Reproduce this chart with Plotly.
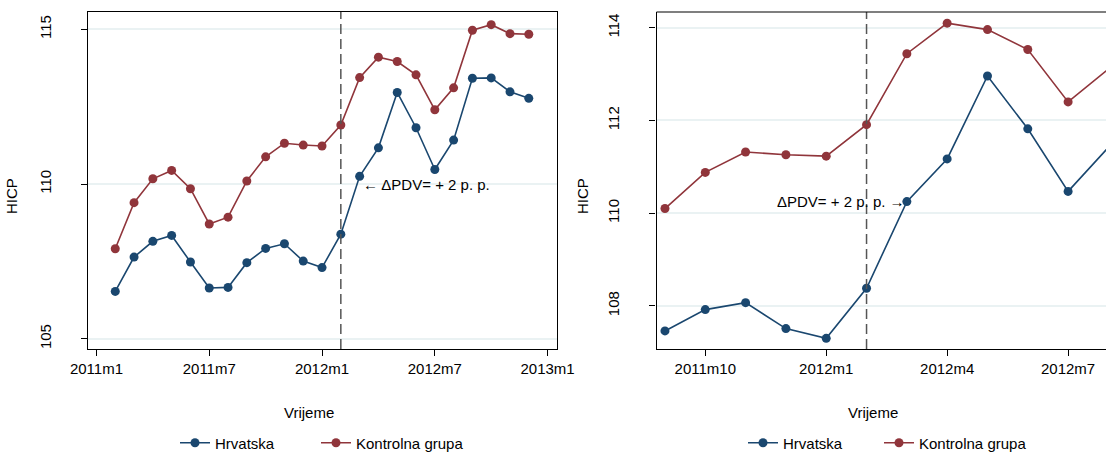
import plotly.graph_objects as go

# ---------------- data ----------------
months = ["2011m2", "2011m3", "2011m4", "2011m5", "2011m6", "2011m7", "2011m8",
          "2011m9", "2011m10", "2011m11", "2011m12", "2012m1", "2012m2", "2012m3",
          "2012m4", "2012m5", "2012m6", "2012m7", "2012m8", "2012m9", "2012m10",
          "2012m11", "2012m12"]
hrvatska = [106.53, 107.64, 108.15, 108.34, 107.48, 106.64, 106.66, 107.46,
            107.92, 108.07, 107.51, 107.30, 108.38, 110.25, 111.17, 112.96,
            111.82, 110.47, 111.42, 113.42, 113.43, 112.98, 112.77]
kontrolna = [107.91, 109.40, 110.17, 110.44, 109.85, 108.71, 108.93, 110.10,
             110.88, 111.32, 111.26, 111.23, 111.91, 113.44, 114.10, 113.96,
             113.53, 112.40, 113.11, 114.97, 115.15, 114.86, 114.84]
series_names = ["Hrvatska", "Kontrolna grupa"]

left_xticks = ["2011m1", "2011m7", "2012m1", "2012m7", "2013m1"]
right_xticks = ["2011m10", "2012m1", "2012m4", "2012m7"]
left_yticks = [105, 110, 115]
right_yticks = [108, 110, 112, 114]
right_window = ["2011m9", "2012m8"]
treatment_month = "2012m2"
label_month = "2012m3"
left_label = "← ΔPDV= + 2 p. p."
right_label = "ΔPDV= + 2 p. p. →"
y_title = "HICP"
x_title = "Vrijeme"

# ---------------- styling ----------------
NAVY = "#1a476f"
MAROON = "#90353b"
GRID = "#eaf2f3"
FONT = "Liberation Sans, Arial, sans-serif"
FS = 15
W, H = 1106, 452


def midx(s):
    y, m = s.split("m")
    return (int(y) - 2011) * 12 + int(m) - 1


x_all = [midx(m) for m in months]
r0, r1 = midx(right_window[0]), midx(right_window[1])
sel = [i for i, v in enumerate(x_all) if r0 <= v <= r1]


def px(xp):
    return xp / W


def py(yp):
    return 1 - yp / H


L_dom = [px(88), px(557)]
R_dom = [px(656.5), 1.0]
Y_dom = [py(349), py(12)]

fig = go.Figure()

colors = [NAVY, MAROON]
values = [hrvatska, kontrolna]
# one legend per entry so each entry can be placed like the original
legend_ids = [["legend", "legend2"], ["legend3", "legend4"]]
legend_text_x = [[215, 356], [783, 919]]

for k, (name, col, vals) in enumerate(zip(series_names, colors, values)):
    fig.add_trace(go.Scatter(
        x=x_all, y=vals, name=name, mode="lines+markers",
        line=dict(color=col, width=1.6),
        marker=dict(color=col, size=9),
        xaxis="x", yaxis="y", legend=legend_ids[0][k], cliponaxis=False,
    ))
for k, (name, col, vals) in enumerate(zip(series_names, colors, values)):
    fig.add_trace(go.Scatter(
        x=[x_all[i] for i in sel], y=[vals[i] for i in sel], name=name,
        mode="lines+markers",
        line=dict(color=col, width=1.6),
        marker=dict(color=col, size=9),
        xaxis="x2", yaxis="y2", legend=legend_ids[1][k], cliponaxis=False,
    ))

tickfont = dict(family=FONT, size=FS, color="#000")
common_x = dict(showgrid=False, zeroline=False, showline=True, linecolor="#000",
                linewidth=1.2, ticks="outside", ticklen=6, tickcolor="#000",
                tickwidth=1, tickfont=tickfont, automargin=False)
common_y = dict(showgrid=True, gridcolor=GRID, gridwidth=2, zeroline=False,
                showline=True, linecolor="#000", linewidth=1.2,
                ticks="outside", ticklen=6, tickcolor="#000", tickwidth=1,
                tickfont=tickfont, tickangle=-90, ticklabelstandoff=24,
                automargin=False)

legend_common = dict(orientation="h", xanchor="left", y=py(443),
                     yanchor="middle", font=dict(family=FONT, size=FS),
                     bgcolor="rgba(0,0,0,0)", itemclick=False)

legends = {}
for p in range(2):
    for k in range(2):
        legends[legend_ids[p][k]] = dict(x=px(legend_text_x[p][k] - 40),
                                         **legend_common)

fig.update_layout(
    template="none",
    width=W, height=H,
    margin=dict(l=0, r=0, t=0, b=0, autoexpand=False),
    paper_bgcolor="white", plot_bgcolor="white",
    font=dict(family=FONT, size=FS, color="#000"),
    xaxis=dict(domain=L_dom, range=[-0.45, 24.5],
               tickvals=[midx(t) for t in left_xticks], ticktext=left_xticks,
               mirror=True, anchor="y", **common_x),
    yaxis=dict(domain=Y_dom, range=[104.67, 115.56], tickvals=left_yticks,
               mirror=True, anchor="x", **common_y),
    xaxis2=dict(domain=R_dom, range=[7.79, 18.94],
                tickvals=[midx(t) for t in right_xticks], ticktext=right_xticks,
                anchor="y2", **common_x),
    yaxis2=dict(domain=Y_dom, range=[107.07, 114.34], tickvals=right_yticks,
                anchor="x2", **common_y),
    showlegend=True,
    **legends,
)

# treatment lines
for xr, yr in [("x", "y domain"), ("x2", "y2 domain")]:
    fig.add_shape(type="line", xref=xr, yref=yr, x0=midx(treatment_month),
                  x1=midx(treatment_month), y0=0, y1=1,
                  line=dict(color="#555555", width=1.5, dash="10px,5px"))
# top border of right panel (extends past the figure edge)
fig.add_shape(type="line", xref="paper", yref="paper", x0=R_dom[0], x1=1.05,
              y0=Y_dom[1], y1=Y_dom[1], line=dict(color="#000", width=1.2))

lm = midx(label_month)
lm_i = x_all.index(lm)
fig.add_annotation(x=lm, y=110.0, xref="x", yref="y", text=left_label,
                   showarrow=False, xanchor="left", yanchor="middle", xshift=1,
                   font=dict(family=FONT, size=FS))
fig.add_annotation(x=lm, y=hrvatska[lm_i], xref="x2", yref="y2", text=right_label,
                   showarrow=False, xanchor="right", yanchor="middle", xshift=0,
                   font=dict(family=FONT, size=FS))

# axis titles
for xc in [309, 873]:
    fig.add_annotation(x=px(xc), y=py(412), xref="paper", yref="paper",
                       text=x_title, showarrow=False, xanchor="center",
                       yanchor="middle", font=dict(family=FONT, size=FS))
for xc in [11, 582]:
    fig.add_annotation(x=px(xc), y=py(196), xref="paper", yref="paper",
                       text=y_title, showarrow=False, textangle=-90,
                       xanchor="center", yanchor="middle",
                       font=dict(family=FONT, size=FS))

fig.write_html(
    "out.html",
    config={"displayModeBar": False},
    post_script="document.body.style.margin='0';document.body.style.overflow='hidden';",
)
